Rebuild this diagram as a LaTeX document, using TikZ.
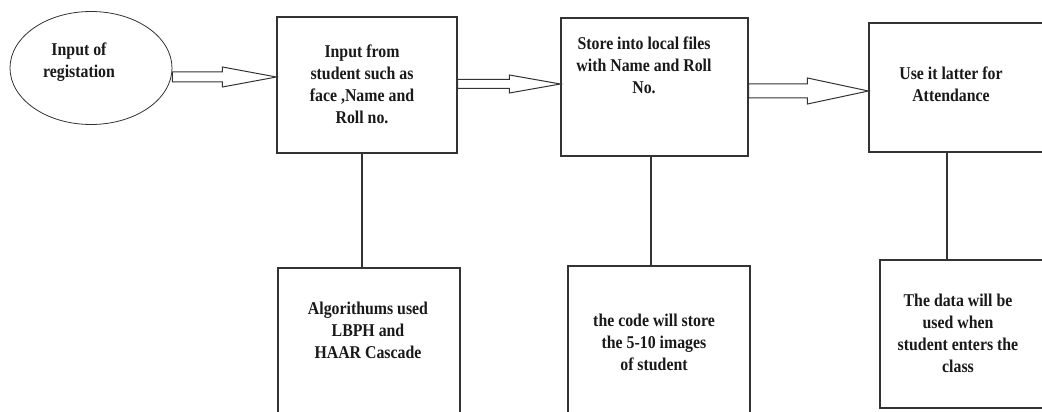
\documentclass[tikz,border=0pt]{standalone}
\usepackage{fontspec}
\setmainfont{Liberation Serif}[FakeStretch=0.88]
\usetikzlibrary{shapes.geometric,calc}
\tikzset{
  flowbox/.style={draw=black!80, line width=1.1pt, rectangle, inner sep=0pt},
  flowtext/.style={font=\bfseries\fontsize{18}{22}\selectfont, align=center, inner sep=0pt, text=black!90},
  linkline/.style={draw=black!80, line width=1.1pt},
  arrowline/.style={draw=black!80, line width=1pt, fill=white, line join=miter}
}
\newcommand{\hollowarrow}[5]{%
  \draw[arrowline] ($(#1)+(0,-#4)$) -- ($(#2)+(-#3,-#4)$) -- ($(#2)+(-#3,-#5)$) -- (#2)
    -- ($(#2)+(-#3,#5)$) -- ($(#2)+(-#3,#4)$) -- ($(#1)+(0,#4)$) -- cycle;}
\begin{document}
\begin{tikzpicture}[x=1pt,y=-1pt]
                \useasboundingbox (0,0) rectangle (1042,412);
                \clip (0,0) rectangle (1042,412);
                \node[ellipse, draw=black!80, line width=0.8pt, minimum width=162, minimum height=113] (reg) at (91,68) {};
                \node[flowtext] (regtext) at (79,62) {Input of\\registation};
                \node[flowbox, minimum width=180, minimum height=136] (box1) at (367,85) {};
                \node[flowtext] (box1text) at (362,84) {Input from\\student such as\\face ,Name and\\Roll no.};
                \node[flowbox, minimum width=187, minimum height=138] (box2) at (654.5,87) {};
                \node[flowtext] (box2text) at (644,65) {Store into local files\\with Name and Roll\\No.};
                \node[flowbox, minimum width=191, minimum height=129] (box3) at (964.5,87.5) {};
                \node[flowtext] (box3text) at (951,84) {Use it latter for\\Attendance};
                \node[flowbox, minimum width=182, minimum height=172] (bot1) at (369,354) {};
                \node[flowtext] (bot1text) at (368,330) {Algorithums used\\LBPH and\\HAAR Cascade};
                \node[flowbox, minimum width=182, minimum height=174] (bot2) at (659,353) {};
                \node[flowtext] (bot2text) at (654,342) {the code will store\\the 5-10 images\\of student};
                \node[flowbox, minimum width=180, minimum height=148] (bot3) at (970,334) {};
                \node[flowtext] (bot3text) at (958,333) {The data will be\\used when\\student enters the\\class};
                \coordinate (a1s) at (reg.east |- 0,77);
                \coordinate (a1e) at (box1.west |- 0,77);
                \coordinate (a2s) at (box1.east |- 0,84);
                \coordinate (a2e) at (box2.west |- 0,84);
                \coordinate (a3s) at (box2.east |- 0,91);
                \coordinate (a3e) at (box3.west |- 0,91);
                \hollowarrow{a1s}{a1e}{54}{5}{10}
                \hollowarrow{a2s}{a2e}{51}{4.5}{9}
                \hollowarrow{a3s}{a3e}{61}{7}{13}
                \draw[linkline] (box1.south -| 362,0) -- (bot1.north -| 362,0);
                \draw[linkline] (box2.south -| 651,0) -- (bot2.north -| 651,0);
                \draw[linkline] (box3.south -| 947,0) -- (bot3.north -| 947,0);
            \end{tikzpicture}
\end{document}
